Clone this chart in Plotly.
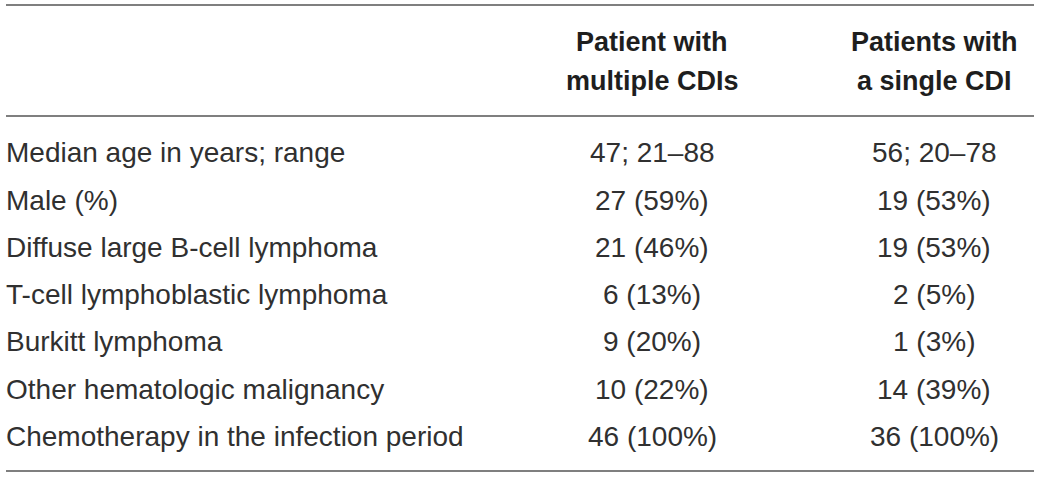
import plotly.graph_objects as go

row_labels = [
    "Median age in years; range",
    "Male (%)",
    "Diffuse large B-cell lymphoma",
    "T-cell lymphoblastic lymphoma",
    "Burkitt lymphoma",
    "Other hematologic malignancy",
    "Chemotherapy in the infection period",
]
multi_values = ["47; 21–88", "27 (59%)", "21 (46%)", "6 (13%)", "9 (20%)", "10 (22%)", "46 (100%)"]
single_values = ["56; 20–78", "19 (53%)", "19 (53%)", "2 (5%)", "1 (3%)", "14 (39%)", "36 (100%)"]
header_line1 = ["Patient with", "Patients with"]
header_line2 = ["multiple CDIs", "a single CDI"]

W, H = 1040, 477
TXT = "#303030"
BODY = dict(family="Liberation Sans, Arial, sans-serif", size=28, color=TXT)
HEAD = dict(family="Liberation Sans, Arial, sans-serif", size=27, color="#1e1e1e", weight="bold")


def px(x):
    return x / W


def py(y):
    return 1 - y / H


fig = go.Figure()
ann = []
col_x = [652, 934]
for i in range(2):
    for txt, yy in ((header_line1[i], 42.5), (header_line2[i], 80.5)):
        ann.append(dict(text=txt, x=px(col_x[i]), y=py(yy), xref="paper", yref="paper",
                        xanchor="center", yanchor="middle", showarrow=False, font=HEAD))
row_y0, row_dy = 153, 47.2
for r, lab in enumerate(row_labels):
    y = row_y0 + r * row_dy
    ann.append(dict(text=lab, x=px(4), y=py(y), xref="paper", yref="paper",
                    xanchor="left", yanchor="middle", showarrow=False, font=BODY))
    ann.append(dict(text=multi_values[r], x=px(col_x[0]), y=py(y), xref="paper", yref="paper",
                    xanchor="center", yanchor="middle", showarrow=False, font=BODY))
    ann.append(dict(text=single_values[r], x=px(col_x[1]), y=py(y), xref="paper", yref="paper",
                    xanchor="center", yanchor="middle", showarrow=False, font=BODY))

shapes = []
for yy in [5, 116, 471]:
    shapes.append(dict(type="line", xref="paper", yref="paper", x0=px(6), x1=px(1034),
                       y0=py(yy), y1=py(yy), line=dict(color="#7f7f7f", width=2)))

fig.update_layout(width=W, height=H, margin=dict(l=0, r=0, t=0, b=0),
                  paper_bgcolor="white", plot_bgcolor="white",
                  xaxis=dict(visible=False), yaxis=dict(visible=False),
                  annotations=ann, shapes=shapes, showlegend=False)
fig.write_html("out.html", config={"displayModeBar": False},
               post_script="document.body.style.margin='0';")
